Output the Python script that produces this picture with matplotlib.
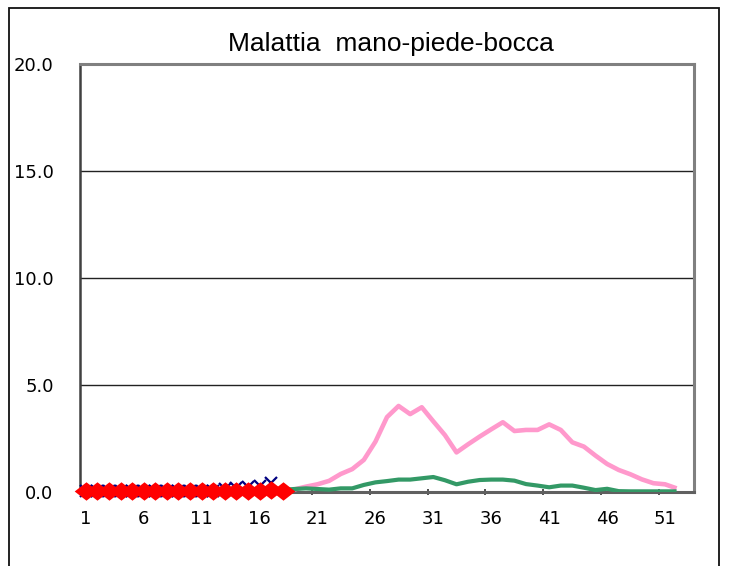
import matplotlib
matplotlib.use("Agg")
import matplotlib.pyplot as plt
from matplotlib.patches import Rectangle
from matplotlib.path import Path
import numpy as np

title = "Malattia  mano-piede-bocca"
weeks = list(range(1, 54))
xtick_labels = [1, 6, 11, 16, 21, 26, 31, 36, 41, 46, 51]
yticks = [0.0, 5.0, 10.0, 15.0, 20.0]

# pink series (weeks 19-52)
pink_weeks = list(range(19, 53))
pink_vals = [0.12, 0.25, 0.36, 0.52, 0.84, 1.07, 1.5, 2.35, 3.5, 4.02, 3.64, 3.96,
             3.3, 2.66, 1.85, 2.23, 2.59, 2.93, 3.26, 2.85, 2.9, 2.9, 3.16, 2.9,
             2.32, 2.12, 1.7, 1.31, 1.03, 0.83, 0.59, 0.41, 0.36, 0.17]

# green series (weeks 18-52)
green_weeks = list(range(18, 53))
green_vals = [0.1, 0.14, 0.17, 0.14, 0.11, 0.17, 0.17, 0.33, 0.45, 0.51, 0.58, 0.58,
              0.64, 0.7, 0.55, 0.36, 0.48, 0.56, 0.58, 0.58, 0.53, 0.37, 0.3, 0.22,
              0.3, 0.3, 0.2, 0.09, 0.15, 0.04, 0.03, 0.03, 0.03, 0.03, 0.03]

# blue X series (weeks 1-17)
blue_weeks = list(range(1, 18))
blue_vals = [0.05, 0.05, 0.05, 0.05, 0.05, 0.05, 0.05, 0.05, 0.05, 0.05, 0.05, 0.07,
             0.12, 0.19, 0.23, 0.3, 0.4]

# red diamond series (weeks 1-18)
red_weeks = list(range(1, 19))
red_vals = [0.03, 0.03, 0.03, 0.03, 0.03, 0.03, 0.03, 0.03, 0.03, 0.03, 0.03, 0.03,
            0.03, 0.03, 0.04, 0.07, 0.1, 0.07]

W, H = 729, 566
fig = plt.figure(figsize=(W / 100, H / 100), dpi=100)
ax = fig.add_axes([80 / W, 1 - 492 / H, (694 - 80) / W, (492 - 64) / H])

# wide diamond marker (wider than tall)
wide_diamond = Path([(-1.0, 0), (0, 0.78), (1.0, 0), (0, -0.78), (-1.0, 0)],
                    [Path.MOVETO, Path.LINETO, Path.LINETO, Path.LINETO, Path.CLOSEPOLY])

ax.plot(pink_weeks, pink_vals, color="#FF99CC", lw=3.3, solid_capstyle="butt", zorder=3)
ax.plot(green_weeks, green_vals, color="#339966", lw=3.0, solid_capstyle="butt", zorder=3)
ax.plot(blue_weeks, blue_vals, color="#000080", marker="x", markersize=8,
        markeredgewidth=1.6, linestyle="none", zorder=4, clip_on=False)
ax.plot(red_weeks, red_vals, color="#FF0000", lw=2.0, marker=wide_diamond, markersize=17,
        markeredgewidth=0, zorder=5, clip_on=False)

ax.set_xlim(0.5, 53.5)
ax.set_ylim(0, 20)

ax.set_yticks(yticks)
ax.set_yticklabels([f"{v:.1f}" for v in yticks], fontsize=13, family="DejaVu Sans")
ax.tick_params(axis="y", length=0, pad=19)

ax.set_xticks(xtick_labels)
ax.set_xticklabels([str(v) for v in xtick_labels], fontsize=13, family="DejaVu Sans")
ax.set_xticks([5.5 + 5 * k for k in range(10)], minor=True)
ax.tick_params(axis="x", which="major", length=0, pad=13)
ax.tick_params(axis="x", which="minor", length=4, direction="inout", width=1.2, color="#333333")

for v in yticks[1:-1]:
    ax.axhline(v, color="#222222", lw=1.0, zorder=1)

for s in ["top", "right"]:
    ax.spines[s].set_color("#808080")
    ax.spines[s].set_linewidth(2.2)
ax.spines["left"].set_color("#404040")
ax.spines["left"].set_linewidth(1.8)
ax.spines["bottom"].set_color("#606060")
ax.spines["bottom"].set_linewidth(2.2)

fig.text((228 + 553) / 2 / W, 1 - 44 / H, title, ha="center", va="center",
         fontsize=19, family="Liberation Sans")

fig.patches.append(Rectangle((9 / W, -0.05), (719 - 9) / W, 1 - 8 / H + 0.05,
                             transform=fig.transFigure, fill=False,
                             edgecolor="#111111", lw=1.3))

fig.savefig("out.png", dpi=100)
